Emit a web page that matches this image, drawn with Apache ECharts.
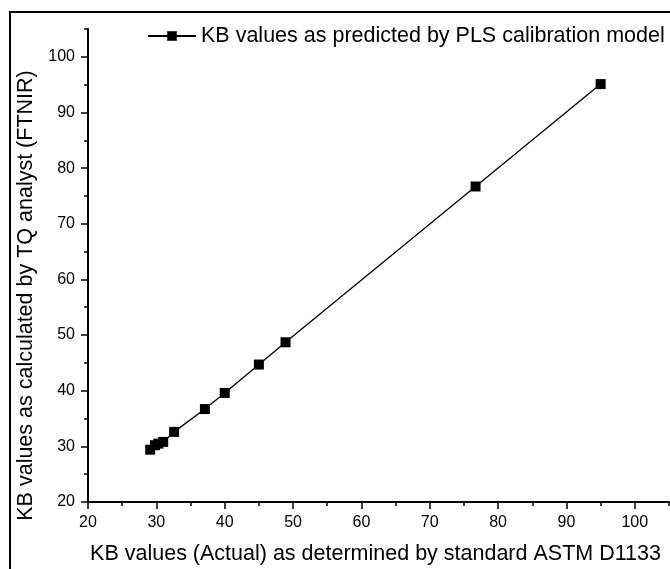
<!DOCTYPE html>
<html>
<head>
    <meta charset="utf-8">
    <title>KB values - PLS calibration</title>
    <script src="https://cdn.jsdelivr.net/npm/echarts@6/dist/echarts.min.js"></script>
    <style>
        html, body { margin: 0; padding: 0; background: #fff; }
    </style>
</head>
<body>
<div id="main" style="width: 670px;height:569px;"></div>
<script type="text/javascript">
    // KB values
    var kbActual    = [29.1, 29.8, 30.3, 31.0, 32.6, 37.1, 40.0, 45.0, 48.9, 76.7, 95.0];
    var kbPredicted = [29.4, 30.2, 30.5, 30.8, 32.6, 36.7, 39.6, 44.7, 48.7, 76.7, 95.1];
    var majorTicks  = [20, 30, 40, 50, 60, 70, 80, 90, 100];
    var seriesName  = 'KB values as predicted by PLS calibration model';

    var points = [];
    for (var i = 0; i < kbActual.length; i++) {
        points.push([kbActual[i], kbPredicted[i]]);
    }

    var font = 'Liberation Sans, Arial, sans-serif';

    // minor axis: line + short ticks every 5
    function minorAxis(pos) {
        return {
            type: 'value', position: pos, min: 20, max: 105, interval: 5,
            axisLine: { show: true, onZero: false, lineStyle: { color: '#000', width: 2 } },
            axisTick: { show: true, inside: false, length: 4, lineStyle: { color: '#000', width: 1.5 } },
            axisLabel: { show: false },
            splitLine: { show: false }
        };
    }
    // major axis: long ticks + labels every 10
    function majorAxis(pos, name, gap, pad) {
        return {
            type: 'value', position: pos, min: 20, max: 105, interval: 5,
            name: name,
            nameLocation: 'middle',
            nameGap: gap,
            nameTextStyle: { color: '#000', fontSize: 21.5, fontFamily: font, padding: pad },
            axisLine: { show: false, onZero: false },
            axisTick: { show: true, length: 7, customValues: majorTicks, lineStyle: { color: '#000', width: 1.5 } },
            axisLabel: { show: true, customValues: majorTicks, margin: 13, color: '#000', fontSize: 16, fontFamily: font },
            splitLine: { show: false }
        };
    }

    var myChart = echarts.init(document.getElementById('main'));
    var option = {
        backgroundColor: '#fff',
        animation: false,
        grid: { left: 88, right: 1, top: 29, bottom: 67, containLabel: false, outerBoundsMode: 'none' },
        legend: {
            left: 142, top: 20,
            itemWidth: 48, itemHeight: 12,
            textStyle: { color: '#000', fontSize: 21.5, fontFamily: font },
            data: [seriesName]
        },
        xAxis: [minorAxis('bottom'), majorAxis('bottom', 'KB values (Actual) as determined by standard ASTM D1133', 41, [0, 6, 0, 0])],
        yAxis: [minorAxis('left'), majorAxis('left', 'KB values as calculated by TQ analyst (FTNIR)', 43, [0, 60, 0, 0])],
        graphic: [{
            type: 'rect',
            shape: { x: 10, y: 12, width: 700, height: 620 },
            style: { fill: null, stroke: '#000', lineWidth: 2 },
            silent: true
        }],
        series: [{
            name: seriesName,
            type: 'line',
            xAxisIndex: 0,
            yAxisIndex: 0,
            symbol: 'rect',
            symbolSize: 10,
            showAllSymbol: true,
            lineStyle: { color: '#000', width: 1.3 },
            itemStyle: { color: '#000' },
            data: points
        }]
    };
    myChart.setOption(option);
</script>
</body>
</html>
